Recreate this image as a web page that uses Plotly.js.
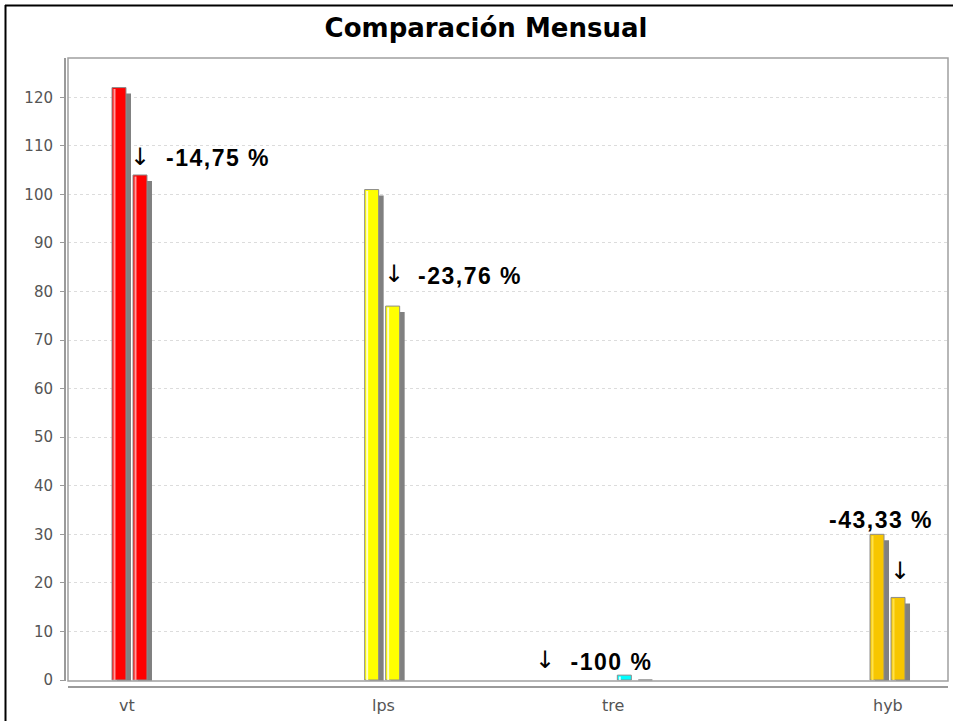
<!DOCTYPE html>
<html>
<head>
<meta charset="utf-8">
<script src="https://cdn.plot.ly/plotly-3.0.1.min.js"></script>
<style>
html,body{margin:0;padding:0;background:#fff;}
#chart{width:953px;height:721px;}
g.annotation[data-index="1"] text, g.annotation[data-index="4"] text,
g.annotation[data-index="7"] text, g.annotation[data-index="10"] text{letter-spacing:1.5px;}
</style>
</head>
<body>
<div id="chart"></div>
<script>
// ---- data ----
const categories = ['vt', 'lps', 'tre', 'hyb'];
const previousValues = [122, 101, 1, 30];
const currentValues = [104, 77, 0, 17];
const chartTitle = 'Comparación Mensual';

// ---- styles ----
const barColors = ['#ff0000', '#ffff00', '#00ffff', '#f7c600'];
const highlightColors = ['#ff9a9a', '#ffffc8', '#c8ffff', '#ffe24a'];
const W = 953, H = 721;
const M = {l: 64, r: 5, t: 58, b: 35};
const plotW = W - M.l - M.r, plotH = H - M.t - M.b;
const frameLeftPx = 68, frameBottomPx = 681;
const xRange = [-0.2414, 3.2414];
const yRange = [-0.206, 128.09];
const pxX = (plotW - (frameLeftPx - M.l)) / (xRange[1] - xRange[0]);   // px per category unit
const pxY = (frameBottomPx - M.t) / (yRange[1] - yRange[0]);             // px per value unit
const u = p => p / pxX;
const barW = u(14), off1 = u(-17), off2 = u(4);
const shDx = u(5), shDy = 6 / pxY;
const hiW = u(2), hiOff = u(1.5);
const px2paperX = p => (p - M.l) / plotW;
const px2paperY = p => (H - M.b - p) / plotH;

// annotation pixel shifts relative to (category, current value)
const arrowShift = [[11.5, 18], [12, 32], [-89.5, 20], [13, 26]];
const pctShift = [[89.5, 17], [88.5, 30], [-22.5, 18], [-6, 77]];
const labelShift = [-2, 1.5, -21.5, 1];

function shadowTrace(vals, off) {
  return {
    type: 'bar', x: categories, y: vals, base: vals.map(() => -shDy),
    width: barW, offset: off + shDx,
    marker: {color: '#808080', line: {width: 0}},
    hoverinfo: 'skip', showlegend: false
  };
}
function barTrace(vals, off, name) {
  return {
    type: 'bar', x: categories, y: vals, name: name,
    width: barW, offset: off,
    marker: {color: barColors, line: {color: '#8c8c8c', width: 1}},
    showlegend: false
  };
}
function highlightTrace(vals, off) {
  return {
    type: 'bar', x: categories, y: vals.map(v => v > 0 ? v - 0.3 : 0),
    width: hiW, offset: off + hiOff,
    marker: {color: highlightColors, line: {width: 0}},
    hoverinfo: 'skip', showlegend: false
  };
}

const traces = [
  shadowTrace(previousValues, off1),
  shadowTrace(currentValues, off2),
  barTrace(previousValues, off1, 'anterior'),
  barTrace(currentValues, off2, 'actual'),
  highlightTrace(previousValues, off1),
  highlightTrace(currentValues, off2)
];

function pctText(a, b) {
  const p = (b - a) / a * 100;
  let s = p.toFixed(2).replace('.', ',');
  if (s.endsWith(',00')) s = s.slice(0, -3);
  return s + ' %';
}

const annFont = {family: 'Liberation Sans, Arial, sans-serif', size: 23, color: '#000', weight: 'bold'};
const annotations = [];
categories.forEach((c, i) => {
  const down = currentValues[i] < previousValues[i];
  annotations.push({
    x: c, y: currentValues[i], xref: 'x', yref: 'y',
    text: down ? '↓' : '↑', showarrow: false,
    xshift: arrowShift[i][0], yshift: arrowShift[i][1],
    xanchor: 'center', yanchor: 'middle',
    font: {family: 'DejaVu Sans, sans-serif', size: 24, color: '#000'}
  });
  annotations.push({
    x: c, y: currentValues[i], xref: 'x', yref: 'y',
    text: pctText(previousValues[i], currentValues[i]), showarrow: false,
    xshift: pctShift[i][0], yshift: pctShift[i][1],
    xanchor: 'center', yanchor: 'middle', font: annFont
  });
  annotations.push({
    x: c, y: px2paperY(705), xref: 'x', yref: 'paper',
    text: c, showarrow: false, xshift: labelShift[i],
    xanchor: 'center', yanchor: 'middle',
    font: {family: 'DejaVu Sans, sans-serif', size: 16, color: '#555'}
  });
});

const layout = {
  width: W, height: H,
  margin: M,
  paper_bgcolor: '#fff', plot_bgcolor: '#fff',
  barmode: 'overlay',
  title: {
    text: chartTitle, xref: 'container', yref: 'container',
    x: 486 / W, y: 1 - 28 / H, xanchor: 'center', yanchor: 'middle',
    font: {family: 'DejaVu Sans, sans-serif', size: 26, color: '#000', weight: 'bold'}
  },
  xaxis: {
    type: 'category', range: xRange, domain: [(frameLeftPx - M.l) / plotW, 1],
    anchor: 'free', position: 0,
    showline: true, linecolor: '#9a9a9a', linewidth: 1.5,
    showgrid: false, zeroline: false, ticks: '', showticklabels: false, fixedrange: true
  },
  yaxis: {
    range: yRange, domain: [(H - M.b - frameBottomPx) / plotH, 1],
    anchor: 'free', position: 0,
    showline: true, linecolor: '#9a9a9a', linewidth: 1.5,
    ticks: 'outside', ticklen: 4, tickcolor: '#9a9a9a', tickwidth: 1,
    ticklabelstandoff: 4,
    dtick: 10, tick0: 0,
    tickfont: {family: 'DejaVu Sans, sans-serif', size: 15, color: '#555'},
    showgrid: true, gridcolor: '#dcdcdc', griddash: '3px,3px', gridwidth: 1,
    zeroline: false, fixedrange: true
  },
  annotations: annotations,
  shapes: [
    {type: 'rect', xref: 'paper', yref: 'paper',
     x0: (frameLeftPx - M.l) / plotW, x1: 1, y0: (H - M.b - frameBottomPx) / plotH, y1: 1,
     line: {color: '#a0a0a0', width: 1.5}, layer: 'above'},
    {type: 'line', xref: 'paper', yref: 'paper',
     x0: px2paperX(5.5), x1: px2paperX(5.5), y0: px2paperY(5), y1: px2paperY(H),
     line: {color: '#000', width: 2}},
    {type: 'line', xref: 'paper', yref: 'paper',
     x0: px2paperX(5), x1: px2paperX(W), y0: px2paperY(5.5), y1: px2paperY(5.5),
     line: {color: '#000', width: 2}}
  ],
  showlegend: false
};

Plotly.newPlot('chart', traces, layout, {displayModeBar: false, staticPlot: true});
</script>
</body>
</html>
